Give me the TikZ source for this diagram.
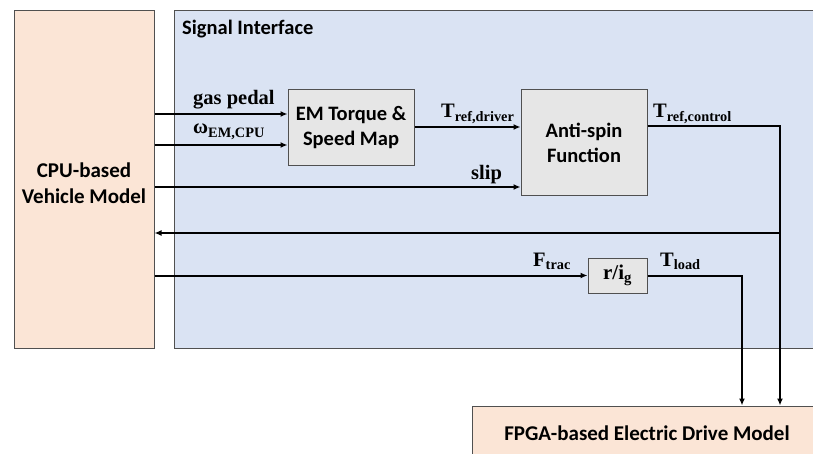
\documentclass[tikz,border=0pt]{standalone}
\usepackage{fontspec}
\setmainfont{Carlito}
\newfontfamily\labfont{Liberation Serif}
\usetikzlibrary{arrows.meta}
\definecolor{peach}{HTML}{FBE5D6}
\definecolor{paleblue}{HTML}{DAE3F3}
\definecolor{boxgray}{HTML}{E6E6E6}
\definecolor{edge}{HTML}{505050}
\begin{document}
\begin{tikzpicture}[x=1pt,y=-1pt,
  blk/.style={draw=edge,line width=1pt,inner sep=0pt,align=center,font=\fontsize{20.5}{25}\selectfont\bfseries},
  conn/.style={line width=2pt,black},
  arr/.style={conn,-{Latex[length=7pt,width=6pt]}},
  lab/.style={anchor=base west,inner sep=0pt,font=\fontsize{20.5}{24}\selectfont\labfont\bfseries}]
\useasboundingbox (0,0) rectangle (813,454);
\node[blk,fill=peach,minimum width=140pt,minimum height=337pt] (cpu) at (84,179.5) {};
\node[inner sep=0pt,align=center,font=\fontsize{21}{26}\selectfont\bfseries] (cputxt) at ([yshift=-4pt]cpu.center) {CPU-based\\Vehicle Model};
\node[blk,fill=paleblue,minimum width=646pt,minimum height=337pt] (si) at (497,179.5) {};
\node[anchor=base west,inner sep=0pt,font=\fontsize{20.5}{24}\selectfont\bfseries] (silab) at (182,35) {Signal Interface};
\node[blk,fill=boxgray,minimum width=126pt,minimum height=76pt] (em) at (351,128) {EM Torque \&\\Speed Map};
\node[blk,fill=boxgray,minimum width=126pt,minimum height=106pt] (anti) at (584,143) {Anti-spin\\Function};
\node[blk,fill=boxgray,minimum width=59pt,minimum height=35pt,font=\fontsize{21}{24}\selectfont\labfont\bfseries] (rig) at (617.5,275.5) {r/i\textsubscript{g}};
\node[blk,fill=peach,minimum width=350pt,minimum height=54pt,font=\fontsize{21}{25}\selectfont\bfseries] (fpga) at (647,433) {FPGA-based Electric Drive Model};
\coordinate (tc) at (780,126);
\coordinate (tl) at (742,276);
% connectors
\draw[arr] (cpu.east |- 0,114) -- (em.west |- 0,114);
\draw[arr] (cpu.east |- 0,145) -- (em.west |- 0,145);
\draw[arr] (em.east |- 0,127) -- (anti.west |- 0,127);
\draw[arr] (cpu.east |- 0,187) -- (anti.west |- 0,187);
\draw[arr] (anti.east |- tc) -- (tc) -- (tc |- fpga.north);
\draw[arr] (tc |- 0,233) -- (cpu.east |- 0,233);
\draw[arr] (cpu.east |- rig.west) -- (rig.west);
\draw[arr] (rig.east |- tl) -- (tl) -- (tl |- fpga.north);
% labels
\node[lab] (l1) at (193,105) {gas pedal};
\node[lab] (l2) at (193,134) {ω\textsubscript{EM,CPU}};
\node[lab] (l3) at (441,118) {T\textsubscript{ref,driver}};
\node[lab] (l4) at (471,180) {slip};
\node[lab] (l5) at (653,118) {T\textsubscript{ref,control}};
\node[lab] (l6) at (533,266) {F\textsubscript{trac}};
\node[lab] (l7) at (660,266) {T\textsubscript{load}};
\end{tikzpicture}
\end{document}
